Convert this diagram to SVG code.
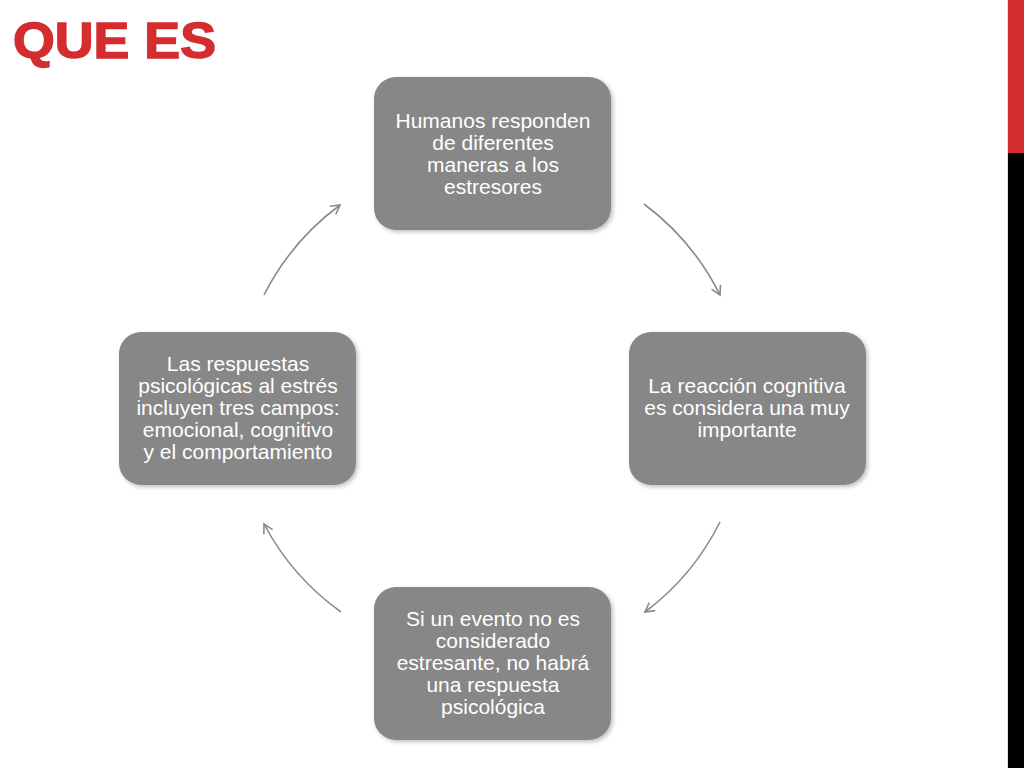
<svg xmlns="http://www.w3.org/2000/svg" width="1024" height="768" viewBox="0 0 1024 768">
<style>
.node{fill:#878787;filter:url(#sh);}
.lbl{font-family:"Liberation Sans",Arial,sans-serif;font-size:21px;fill:#ffffff;text-anchor:middle;}
.arc{fill:none;stroke:#8a8a8a;stroke-width:1.6;marker-end:url(#ah);}
</style>
<defs>
<filter id="sh" x="-10%" y="-10%" width="120%" height="120%">
<feDropShadow dx="2" dy="2" stdDeviation="2" flood-color="#000" flood-opacity="0.25"/>
</filter>
<marker id="ah" viewBox="0 0 12 12" refX="10" refY="6" markerWidth="12" markerHeight="12" markerUnits="userSpaceOnUse" orient="auto">
<path d="M1,1 L10,6 L1,11" fill="none" stroke="#8a8a8a" stroke-width="1.6"/>
</marker>
</defs>
<rect width="1024" height="768" fill="#ffffff"/>
<rect x="1007" y="0" width="1" height="768" fill="#e0e0e0"/>
<rect x="1008" y="0" width="16" height="153" fill="#d42d30"/>
<rect x="1008" y="153" width="16" height="615" fill="#000000"/>
<text x="13" y="58" font-family="'Liberation Sans',Arial,sans-serif" font-weight="bold" font-size="50" fill="#d42d30" stroke="#d42d30" stroke-width="1.5" textLength="203" lengthAdjust="spacingAndGlyphs">QUE ES</text>
<g id="connectors">
<path class="arc" d="M644,204 A255,255 0 0 1 720,295"/>
<path class="arc" d="M720,522 A255,255 0 0 1 645,612"/>
<path class="arc" d="M341,612 A255,255 0 0 1 264,524"/>
<path class="arc" d="M264,295 A255,255 0 0 1 340,205"/>
</g>
<g id="n1">
<rect class="node" x="374" y="77" width="237" height="153" rx="22"/>
<text class="lbl"><tspan x="493" y="128">Humanos responden</tspan><tspan x="493" y="150">de diferentes</tspan><tspan x="493" y="172">maneras a los</tspan><tspan x="493" y="194">estresores</tspan></text>
</g>
<g id="n2">
<rect class="node" x="629" y="332" width="237" height="153" rx="22"/>
<text class="lbl"><tspan x="747" y="393">La reacción cognitiva</tspan><tspan x="747" y="415">es considera una muy</tspan><tspan x="747" y="437">importante</tspan></text>
</g>
<g id="n3">
<rect class="node" x="374" y="587" width="237" height="153" rx="22"/>
<text class="lbl"><tspan x="493" y="626">Si un evento no es</tspan><tspan x="493" y="648">considerado</tspan><tspan x="493" y="670">estresante, no habrá</tspan><tspan x="493" y="692">una respuesta</tspan><tspan x="493" y="714">psicológica</tspan></text>
</g>
<g id="n4">
<rect class="node" x="119" y="332" width="237" height="153" rx="22"/>
<text class="lbl"><tspan x="238" y="371">Las respuestas</tspan><tspan x="238" y="393">psicológicas al estrés</tspan><tspan x="238" y="415">incluyen tres campos:</tspan><tspan x="238" y="437">emocional, cognitivo</tspan><tspan x="238" y="459">y el comportamiento</tspan></text>
</g>
</svg>
